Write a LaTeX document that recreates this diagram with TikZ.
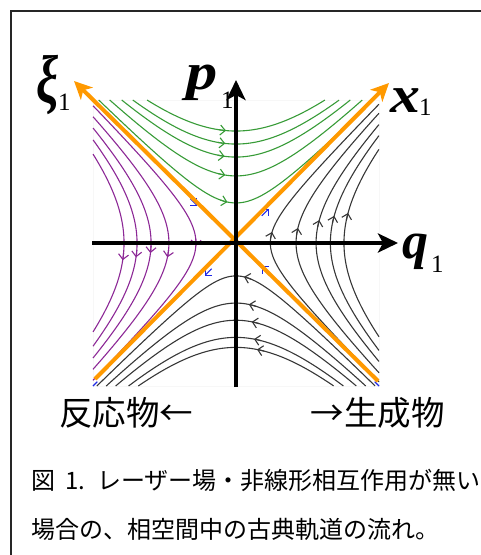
\documentclass[tikz,border=0pt]{standalone}
\usepackage{fontspec}
\setmainfont{Liberation Serif}
\newfontfamily\jp{Noto Sans CJK JP}
\usetikzlibrary{arrows.meta}
\definecolor{flowgreen}{RGB}{55,155,55}
\definecolor{flowpurple}{RGB}{140,40,150}
\definecolor{flowgray}{RGB}{55,55,55}
\definecolor{sepblue}{RGB}{30,40,230}
\definecolor{sepora}{RGB}{255,153,0}
\begin{document}
\begin{tikzpicture}[x=1pt,y=-1pt,
  flow/.style={line width=1.1pt},
  flowtip/.style={-{Straight Barb[length=5pt,width=10pt,line width=1.1pt]}},
  axisline/.style={line width=4pt,black,-{Stealth[length=20pt,width=19pt,inset=5pt]}},
  sepline/.style={line width=4pt,sepora},
  septip/.style={-{Stealth[length=18pt,width=17pt,inset=5pt]}},
  letter/.style={inner sep=0pt,anchor=base west,font=\fontsize{52}{52}\selectfont\bfseries\itshape},
  subs/.style={inner sep=0pt,anchor=base west,font=\fontsize{25}{25}\selectfont},
  jplab/.style={inner sep=0pt,font=\jp\fontsize{33.5}{34}\selectfont},
  caption/.style={inner sep=0pt,anchor=west,font=\jp\fontsize{24}{24}\selectfont}]
\useasboundingbox (0,0) rectangle (481,555);
% frame
\coordinate (fbl) at (11,557);
\coordinate (ftl) at (11,11);
\coordinate (ftr) at (483,11);
\draw[line width=2pt,black!85] (fbl) -- (ftl) -- (ftr);
% flow field
\begin{scope}[shift={(236,243)},x=143pt,y=143pt]
  \draw[black!3,line width=0.6pt] (-1,-1) rectangle (1,1);
  % upper (green)
  \foreach \c/\a in {0.783/-0.07,0.692/-0.075,0.601/-0.08,0.469/-0.075,0.280/-0.06}{
    \pgfmathsetmacro\m{sqrt(1-\c*\c)}
    \pgfmathsetmacro\b{\a-0.05}
    \draw[flow,flowgreen] plot[domain=-\m:\m,samples=80,smooth] (\x,{sqrt(\c*\c+\x*\x)});
    \draw[flow,flowgreen,flowtip] plot[domain=\b:\a,samples=4] (\x,{sqrt(\c*\c+\x*\x)});
  }
  % left (purple)
  \foreach \c/\a in {0.783/-0.12,0.692/-0.10,0.594/-0.07,0.469/-0.10,0.280/-0.02}{
    \pgfmathsetmacro\m{sqrt(1-\c*\c)}
    \pgfmathsetmacro\b{\a+0.05}
    \draw[flow,flowpurple] plot[domain=-\m:\m,samples=80,smooth] ({-sqrt(\c*\c+\x*\x)},\x);
    \draw[flow,flowpurple,flowtip] plot[domain=\b:\a,samples=4] ({-sqrt(\c*\c+\x*\x)},\x);
  }
  % right (gray)
  \foreach \c/\a in {0.24/0.077,0.42/0.105,0.56/0.16,0.66/0.19,0.755/0.21}{
    \pgfmathsetmacro\m{sqrt(1-\c*\c)}
    \pgfmathsetmacro\b{\a-0.05}
    \draw[flow,flowgray] plot[domain=-\m:\m,samples=80,smooth] ({sqrt(\c*\c+\x*\x)},\x);
    \draw[flow,flowgray,flowtip] plot[domain=\b:\a,samples=4] ({sqrt(\c*\c+\x*\x)},\x);
  }
  % lower (gray)
  \foreach \c/\a in {0.23/0.056,0.42/0.09,0.54/0.11,0.66/0.126,0.73/0.147}{
    \pgfmathsetmacro\m{sqrt(1-\c*\c)}
    \pgfmathsetmacro\b{\a+0.05}
    \draw[flow,flowgray] plot[domain=-\m:\m,samples=80,smooth] (\x,{-sqrt(\c*\c+\x*\x)});
    \draw[flow,flowgray,flowtip] plot[domain=\b:\a,samples=4] (\x,{-sqrt(\c*\c+\x*\x)});
  }
  % separatrix streamline arrows (blue, mostly hidden)
  \coordinate (ua) at (-0.32,0.31); \coordinate (ub) at (-0.27,0.26);
  \coordinate (va) at (0.18,0.19);  \coordinate (vb) at (0.23,0.24);
  \coordinate (wa) at (-0.17,-0.18); \coordinate (wb) at (-0.22,-0.23);
  \coordinate (za) at (0.23,-0.21); \coordinate (zb) at (0.18,-0.16);
  \draw[flow,sepblue,flowtip] (ua) -- (ub);
  \draw[flow,sepblue,flowtip] (va) -- (vb);
  \draw[flow,sepblue,flowtip] (wa) -- (wb);
  \draw[flow,sepblue,flowtip] (za) -- (zb);
  \coordinate (c1a) at (-1,-1); \coordinate (c1b) at (-0.97,-0.97);
  \coordinate (c2a) at (1,-1);  \coordinate (c2b) at (0.97,-0.97);
  \draw[flow,sepblue] (c1a) -- (c1b);
  \draw[flow,sepblue] (c2a) -- (c2b);
\end{scope}
% orange separatrices
\coordinate (o1s) at (95,379);
\coordinate (o1e) at (389,83);
\coordinate (o2s) at (378,381);
\coordinate (o2e) at (74,81);
\draw[sepline,septip] (o1s) -- (o1e);
\draw[sepline,septip] (o2s) -- (o2e);
% axes
\coordinate (qs) at (92,243);
\coordinate (qe) at (398,243);
\coordinate (ps) at (236,387);
\coordinate (pe) at (236,80);
\draw[axisline] (qs) -- (qe);
\draw[axisline] (ps) -- (pe);
% axis labels
\node[letter] (xi) at (36,102) {\scalebox{0.95}[1.3]{ξ}};
\node[subs] (xisub) at (58,110) {1};
\node[letter] (pl) at (186,89) {\scalebox{1.2}[1]{p}};
\node[subs] (plsub) at (221,108) {1};
\node[letter] (xl) at (390,112) {\scalebox{1.15}[1]{x}};
\node[subs] (xlsub) at (419,115) {1};
\node[letter] (ql) at (402,258) {q};
\node[subs] (qlsub) at (431,272) {1};
% reactant / product
\node[jplab,anchor=west] (react) at (59,413) {反応物←};
\node[jplab,anchor=east] (prod) at (445,413) {→生成物};
% caption
\node[caption] (cap1) at (31,480) {図\hspace{10pt}1.\hspace{12pt}レーザー場・非線形相互作用が無い};
\node[caption] (cap2) at (31,529) {場合の、相空間中の古典軌道の流れ。};
\end{tikzpicture}
\end{document}
